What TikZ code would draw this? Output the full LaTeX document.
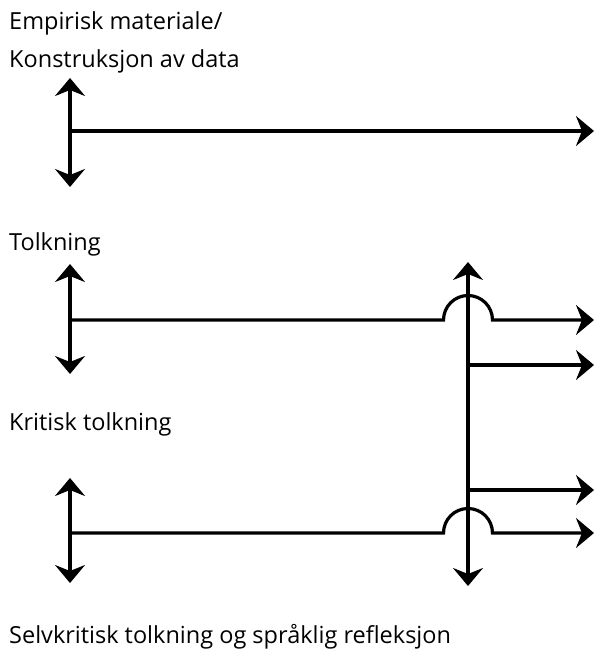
\documentclass[tikz,border=0pt]{standalone}
\usepackage{fontspec}
\setmainfont{Open Sans}
\usetikzlibrary{arrows.meta}

\begin{document}
\begin{tikzpicture}[x=1pt,y=1pt]
\tikzstyle{every node}+=[inner sep=0pt]
\tikzstyle{lbl}=[anchor=base west, font=\fontsize{23.5}{28}\selectfont]
\tikzstyle{tip}=[line width=3.2pt, -{Stealth[length=18pt,width=30pt,inset=6pt]}]
\tikzstyle{twotip}=[line width=3.2pt, {Stealth[length=18pt,width=30pt,inset=6pt]}-{Stealth[length=18pt,width=30pt,inset=6pt]}]
\useasboundingbox (0,0) rectangle (595,-651);
% labels
\node [lbl] (empirisk) at (9,-29) {Empirisk materiale/};
\node [lbl] (konstr) at (9,-67) {Konstruksjon av data};
\node [lbl] (tolk) at (9,-250) {Tolkning};
\node [lbl] (krit) at (9,-430) {Kritisk tolkning};
\node [lbl] (selv) at (9,-643) {Selvkritisk tolkning og språklig refleksjon};
% first level
\coordinate (e-top) at (70,-78);
\coordinate (e-bot) at (70,-187);
\coordinate (e-mid) at (70,-131);
\coordinate (e-end) at (594,-131);
\draw [twotip] (e-top) -- (e-bot);
\draw [tip] (e-mid) -- (e-end);
% second level
\coordinate (t-top) at (70,-264);
\coordinate (t-bot) at (70,-374);
\coordinate (t-mid) at (70,-320);
\coordinate (t-hop) at (443.5,-320);
\coordinate (t-end) at (594,-320);
\draw [twotip] (t-top) -- (t-bot);
\draw [tip] (t-mid) -- (t-hop) arc (180:0:24.5) -- (t-end);
% third level
\coordinate (k-top) at (70,-478);
\coordinate (k-bot) at (70,-583);
\coordinate (k-mid) at (70,-533);
\coordinate (k-hop) at (443.5,-533);
\coordinate (k-end) at (594,-533);
\draw [twotip] (k-top) -- (k-bot);
\draw [tip] (k-mid) -- (k-hop) arc (180:0:24.5) -- (k-end);
% reflection line
\coordinate (r-top) at (468,-262);
\coordinate (r-bot) at (468,-586);
\coordinate (r-a) at (468,-365);
\coordinate (r-a-end) at (594,-365);
\coordinate (r-b) at (468,-490);
\coordinate (r-b-end) at (594,-490);
\draw [twotip] (r-top) -- (r-bot);
\draw [tip] (r-a) -- (r-a-end);
\draw [tip] (r-b) -- (r-b-end);
\end{tikzpicture}
\end{document}
